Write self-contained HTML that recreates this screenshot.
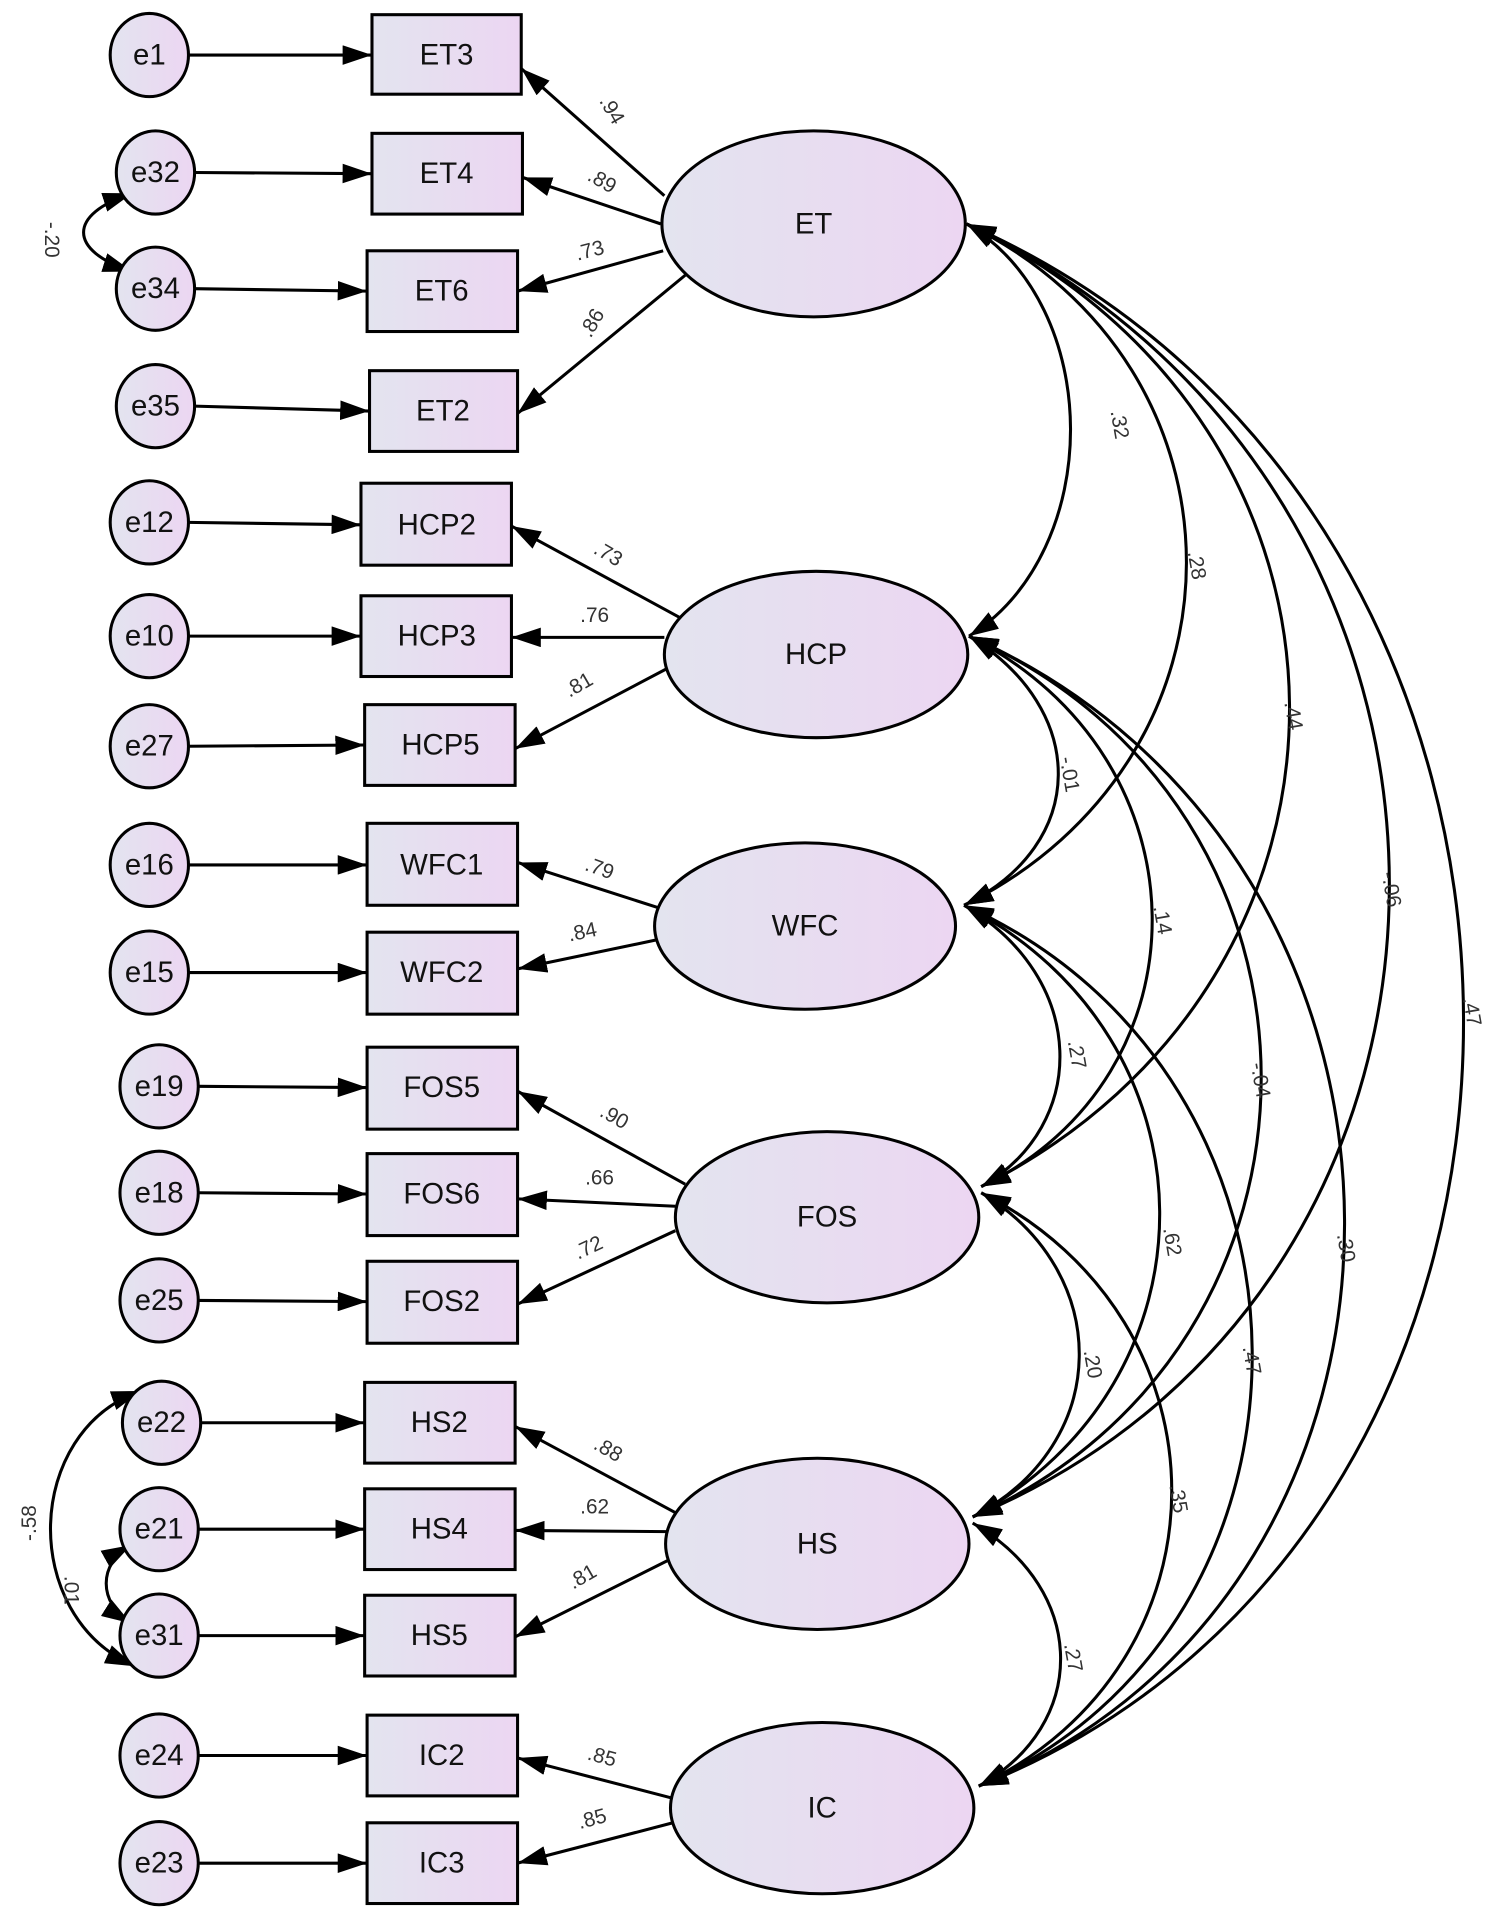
<!DOCTYPE html>
<html><head><meta charset="utf-8"><style>
html,body{margin:0;padding:0;background:#fff;}
svg{display:block;}
text{font-family:"Liberation Sans",Arial,sans-serif;}
.n{font-size:24px;fill:#111;text-anchor:middle;dominant-baseline:central;}
.l{font-size:17px;fill:#333;text-anchor:middle;dominant-baseline:central;}
</style></head><body>
<svg width="1500" height="1928" viewBox="0 0 1226 1576" xmlns="http://www.w3.org/2000/svg">
<defs>
<linearGradient id="g" x1="0" y1="0" x2="1" y2="0"><stop offset="0" stop-color="#e3e4ef"/><stop offset="1" stop-color="#ecd6f2"/></linearGradient>
<marker id="a" viewBox="0 0 24 16" refX="24" refY="8" markerWidth="24" markerHeight="16" markerUnits="userSpaceOnUse" orient="auto-start-reverse"><path d="M0,0 L24,8 L0,16 z" fill="#000"/></marker>
</defs>
<g stroke="#000" stroke-width="2.5" fill="none">
<path d="M154,45 L304,45" marker-end="url(#a)"/>
<path d="M159,141 L304,142" marker-end="url(#a)"/>
<path d="M159,236 L300,238" marker-end="url(#a)"/>
<path d="M159,332 L302,336" marker-end="url(#a)"/>
<path d="M154,427 L295,429" marker-end="url(#a)"/>
<path d="M154,520 L295,520" marker-end="url(#a)"/>
<path d="M154,610 L298,609" marker-end="url(#a)"/>
<path d="M154,707 L300,707" marker-end="url(#a)"/>
<path d="M154,795 L300,795" marker-end="url(#a)"/>
<path d="M162,888 L300,889" marker-end="url(#a)"/>
<path d="M162,975 L300,976" marker-end="url(#a)"/>
<path d="M162,1063 L300,1064" marker-end="url(#a)"/>
<path d="M164,1163 L298,1163" marker-end="url(#a)"/>
<path d="M162,1250 L298,1250" marker-end="url(#a)"/>
<path d="M162,1337 L298,1337" marker-end="url(#a)"/>
<path d="M162,1435 L300,1435" marker-end="url(#a)"/>
<path d="M162,1523 L300,1523" marker-end="url(#a)"/>
<path d="M543,160 L426,56" marker-end="url(#a)"/>
<path d="M540,183 L427,145" marker-end="url(#a)"/>
<path d="M542,205 L423,238" marker-end="url(#a)"/>
<path d="M560,225 L423,338" marker-end="url(#a)"/>
<path d="M556,505 L418,430" marker-end="url(#a)"/>
<path d="M543,521 L418,521" marker-end="url(#a)"/>
<path d="M548,545 L421,612" marker-end="url(#a)"/>
<path d="M538,742 L423,705" marker-end="url(#a)"/>
<path d="M538,768 L423,792" marker-end="url(#a)"/>
<path d="M560,968 L423,892" marker-end="url(#a)"/>
<path d="M552,986 L423,980" marker-end="url(#a)"/>
<path d="M552,1006 L423,1066" marker-end="url(#a)"/>
<path d="M553,1237 L421,1166" marker-end="url(#a)"/>
<path d="M545,1252 L421,1251" marker-end="url(#a)"/>
<path d="M547,1275 L421,1338" marker-end="url(#a)"/>
<path d="M550,1470 L423,1437" marker-end="url(#a)"/>
<path d="M550,1490 L423,1523" marker-end="url(#a)"/>
<path d="M108,158 C55,175 55,205 108,222" marker-start="url(#a)" marker-end="url(#a)"/>
<path d="M115,1137 C20,1170 15,1320 110,1362" marker-start="url(#a)" marker-end="url(#a)"/>
<path d="M107,1263 C80,1278 80,1310 107,1327" marker-start="url(#a)" marker-end="url(#a)"/>
<path d="M790,183 C903,250 903,450 792,520" marker-start="url(#a)" marker-end="url(#a)"/>
<path d="M790,183 C1030,300 1030,620 788,740" marker-start="url(#a)" marker-end="url(#a)"/>
<path d="M790,183 C1140,350 1140,800 802,970" marker-start="url(#a)" marker-end="url(#a)"/>
<path d="M790,183 C1250,400 1250,1050 795,1240" marker-start="url(#a)" marker-end="url(#a)"/>
<path d="M790,183 C1330,420 1330,1250 800,1460" marker-start="url(#a)" marker-end="url(#a)"/>
<path d="M792,520 C890,580 890,690 788,740" marker-start="url(#a)" marker-end="url(#a)"/>
<path d="M792,520 C990,620 990,880 802,970" marker-start="url(#a)" marker-end="url(#a)"/>
<path d="M792,520 C1110,660 1110,1100 795,1240" marker-start="url(#a)" marker-end="url(#a)"/>
<path d="M792,520 C1200,700 1200,1300 800,1460" marker-start="url(#a)" marker-end="url(#a)"/>
<path d="M788,740 C890,800 890,920 802,970" marker-start="url(#a)" marker-end="url(#a)"/>
<path d="M788,740 C1000,850 1000,1130 795,1240" marker-start="url(#a)" marker-end="url(#a)"/>
<path d="M788,740 C1100,880 1100,1330 800,1460" marker-start="url(#a)" marker-end="url(#a)"/>
<path d="M802,975 C910,1040 910,1180 795,1240" marker-start="url(#a)" marker-end="url(#a)"/>
<path d="M802,975 C1010,1080 1010,1360 800,1460" marker-start="url(#a)" marker-end="url(#a)"/>
<path d="M795,1245 C890,1300 890,1410 800,1460" marker-start="url(#a)" marker-end="url(#a)"/>
</g>
<g stroke="#000" stroke-width="2.5" fill="url(#g)">
<ellipse cx="122" cy="45" rx="32" ry="34"/><ellipse cx="127" cy="141" rx="32" ry="34"/><ellipse cx="127" cy="236" rx="32" ry="34"/><ellipse cx="127" cy="332" rx="32" ry="34"/>
<ellipse cx="122" cy="427" rx="32" ry="34"/><ellipse cx="122" cy="520" rx="32" ry="34"/><ellipse cx="122" cy="610" rx="32" ry="34"/>
<ellipse cx="122" cy="707" rx="32" ry="34"/><ellipse cx="122" cy="795" rx="32" ry="34"/>
<ellipse cx="130" cy="888" rx="32" ry="34"/><ellipse cx="130" cy="975" rx="32" ry="34"/><ellipse cx="130" cy="1063" rx="32" ry="34"/>
<ellipse cx="132" cy="1163" rx="32" ry="34"/><ellipse cx="130" cy="1250" rx="32" ry="34"/><ellipse cx="130" cy="1337" rx="32" ry="34"/>
<ellipse cx="130" cy="1435" rx="32" ry="34"/><ellipse cx="130" cy="1523" rx="32" ry="34"/>
<rect x="304" y="12" width="122" height="65"/><rect x="304" y="109" width="123" height="66"/><rect x="300" y="205" width="123" height="66"/><rect x="302" y="303" width="121" height="66"/>
<rect x="295" y="395" width="123" height="67"/><rect x="295" y="487" width="123" height="66"/><rect x="298" y="576" width="123" height="66"/>
<rect x="300" y="673" width="123" height="67"/><rect x="300" y="762" width="123" height="67"/>
<rect x="300" y="856" width="123" height="67"/><rect x="300" y="943" width="123" height="67"/><rect x="300" y="1031" width="123" height="67"/>
<rect x="298" y="1130" width="123" height="66"/><rect x="298" y="1217" width="123" height="66"/><rect x="298" y="1304" width="123" height="66"/>
<rect x="300" y="1402" width="123" height="66"/><rect x="300" y="1490" width="123" height="66"/>
<ellipse cx="665" cy="183" rx="124" ry="76"/><ellipse cx="667" cy="535" rx="124" ry="68"/><ellipse cx="658" cy="757" rx="123" ry="68"/>
<ellipse cx="676" cy="995" rx="124" ry="70"/><ellipse cx="668" cy="1262" rx="124" ry="70"/><ellipse cx="672" cy="1478" rx="124" ry="70"/>
</g>
<g class="n">
<text x="122" y="45">e1</text><text x="127" y="141">e32</text><text x="127" y="236">e34</text><text x="127" y="332">e35</text>
<text x="122" y="427">e12</text><text x="122" y="520">e10</text><text x="122" y="610">e27</text>
<text x="122" y="707">e16</text><text x="122" y="795">e15</text>
<text x="130" y="888">e19</text><text x="130" y="975">e18</text><text x="130" y="1063">e25</text>
<text x="132" y="1163">e22</text><text x="130" y="1250">e21</text><text x="130" y="1337">e31</text>
<text x="130" y="1435">e24</text><text x="130" y="1523">e23</text>
<text x="365" y="45">ET3</text><text x="365" y="142">ET4</text><text x="361" y="238">ET6</text><text x="362" y="336">ET2</text>
<text x="357" y="429">HCP2</text><text x="357" y="520">HCP3</text><text x="360" y="609">HCP5</text>
<text x="361" y="707">WFC1</text><text x="361" y="795">WFC2</text>
<text x="361" y="889">FOS5</text><text x="361" y="976">FOS6</text><text x="361" y="1064">FOS2</text>
<text x="359" y="1163">HS2</text><text x="359" y="1250">HS4</text><text x="359" y="1337">HS5</text>
<text x="361" y="1435">IC2</text><text x="361" y="1523">IC3</text>
<text x="665" y="183">ET</text><text x="667" y="535">HCP</text><text x="658" y="757">WFC</text>
<text x="676" y="995">FOS</text><text x="668" y="1262">HS</text><text x="672" y="1478">IC</text>
</g>
<g class="l">
<text transform="translate(500,90) rotate(60)">.94</text>
<text transform="translate(492,148) rotate(30)">.89</text>
<text transform="translate(482,205) rotate(-15)">.73</text>
<text transform="translate(484,264) rotate(-60)">.86</text>
<text transform="translate(497,453) rotate(30)">.73</text>
<text x="486" y="503">.76</text>
<text transform="translate(473,560) rotate(-30)">.81</text>
<text transform="translate(490,710) rotate(20)">.79</text>
<text transform="translate(476,762) rotate(-12)">.84</text>
<text transform="translate(502,913) rotate(30)">.90</text>
<text x="490" y="963">.66</text>
<text transform="translate(481,1020) rotate(-25)">.72</text>
<text transform="translate(497,1185) rotate(30)">.88</text>
<text x="486" y="1232">.62</text>
<text transform="translate(476,1289) rotate(-30)">.81</text>
<text transform="translate(492,1436) rotate(15)">.85</text>
<text transform="translate(484,1487) rotate(-15)">.85</text>
<text transform="translate(42,196) rotate(90)">-.20</text>
<text transform="translate(24,1245) rotate(-90)">-.58</text>
<text transform="translate(58,1300) rotate(90)">.01</text>
<text transform="translate(915,347) rotate(80)">.32</text>
<text transform="translate(978,462) rotate(80)">.28</text>
<text transform="translate(1057,585) rotate(80)">.44</text>
<text transform="translate(1137,727) rotate(80)">-.06</text>
<text transform="translate(1203,827) rotate(80)">.47</text>
<text transform="translate(874,633) rotate(80)">-.01</text>
<text transform="translate(950,752) rotate(80)">.14</text>
<text transform="translate(1030,883) rotate(80)">-.04</text>
<text transform="translate(1100,1020) rotate(80)">.30</text>
<text transform="translate(880,862) rotate(80)">.27</text>
<text transform="translate(958,1015) rotate(80)">.62</text>
<text transform="translate(1023,1112) rotate(80)">.47</text>
<text transform="translate(893,1115) rotate(80)">.20</text>
<text transform="translate(963,1225) rotate(80)">.35</text>
<text transform="translate(877,1355) rotate(80)">.27</text>
</g>
</svg>
</body></html>
